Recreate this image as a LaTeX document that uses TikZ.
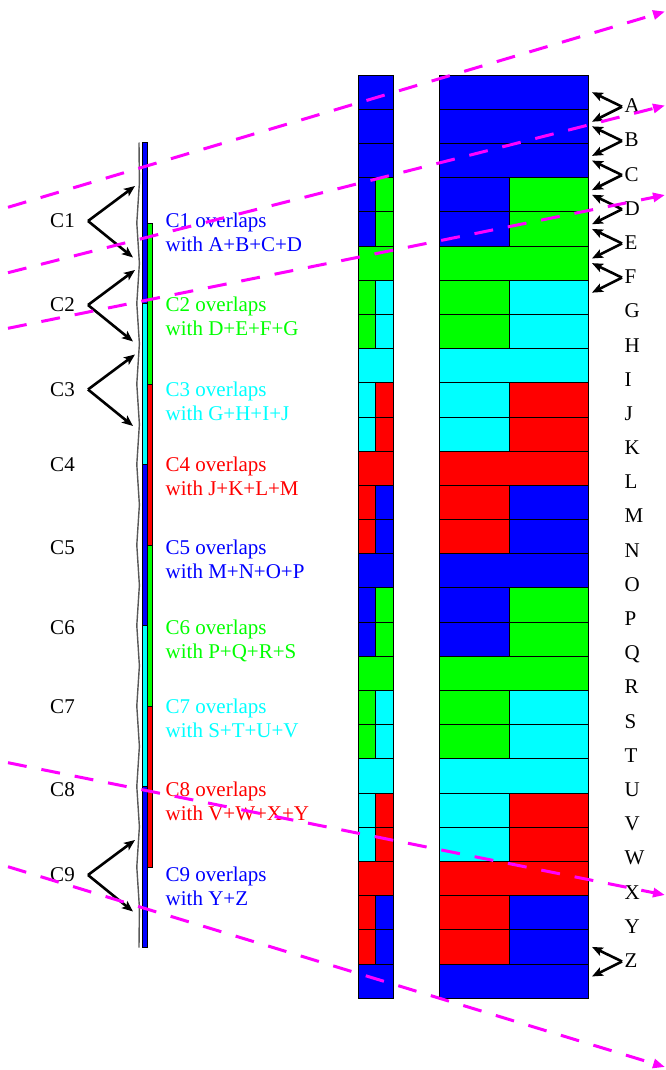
\documentclass[tikz,border=0pt]{standalone}
\usepackage{fontspec}
\setmainfont{Liberation Serif}
\usetikzlibrary{arrows.meta}
\definecolor{mblue}{RGB}{0,0,255}
\definecolor{mgreen}{RGB}{0,255,0}
\definecolor{mcyan}{RGB}{0,255,255}
\definecolor{mred}{RGB}{255,0,0}
\definecolor{mmag}{RGB}{255,0,255}
\begin{document}
\begin{tikzpicture}[x=1pt,y=-1pt,
  cell/.style={draw=black,line width=0.8pt},
  txt/.style={inner sep=0pt,font=\fontsize{21}{24}\selectfont},
  blkarrow/.style={draw=black,line width=2.6pt,-{Stealth[length=11pt,width=9pt,inset=2.5pt]}},
  magline/.style={draw=mmag,line width=3pt,dash pattern=on 19pt off 15pt,-{Triangle[length=12pt,width=9pt]}},
  barline/.style={draw=black!65,line width=1.4pt,line join=miter}]
\useasboundingbox (0,0) rectangle (666,1070);

% ---------- right columns: full rows ----------
\foreach \i/\c in {0/mblue,1/mblue,2/mblue,5/mgreen,8/mcyan,11/mred,14/mblue,17/mgreen,20/mcyan,23/mred,26/mblue}{
  \pgfmathsetmacro\ya{75+34.19*\i}
  \pgfmathsetmacro\yb{75+34.19*(\i+1)}
  \path[cell,fill=\c] (358.3,\ya) rectangle (393.3,\yb);
  \path[cell,fill=\c] (439.3,\ya) rectangle (588.3,\yb);
}
% ---------- right columns: split rows ----------
\foreach \i/\l/\r in {3/mblue/mgreen,4/mblue/mgreen,6/mgreen/mcyan,7/mgreen/mcyan,9/mcyan/mred,10/mcyan/mred,
  12/mred/mblue,13/mred/mblue,15/mblue/mgreen,16/mblue/mgreen,18/mgreen/mcyan,19/mgreen/mcyan,
  21/mcyan/mred,22/mcyan/mred,24/mred/mblue,25/mred/mblue}{
  \pgfmathsetmacro\ya{75+34.19*\i}
  \pgfmathsetmacro\yb{75+34.19*(\i+1)}
  \path[cell,fill=\l] (358.3,\ya) rectangle (375.5,\yb);
  \path[cell,fill=\r] (375.5,\ya) rectangle (393.3,\yb);
  \path[cell,fill=\l] (439.3,\ya) rectangle (509,\yb);
  \path[cell,fill=\r] (509,\ya) rectangle (588.3,\yb);
}

% ---------- letters A..Z ----------
\foreach \L [count=\i from 1] in {A,B,C,D,E,F,G,H,I,J,K,L,M,N,O,P,Q,R,S,T,U,V,W,X,Y,Z}{
  \pgfmathsetmacro\yb{75+34.19*\i+3.5}
  \node[txt,anchor=base west] (let\L) at (624.5,\yb) {\L};
}
% ---------- right arrows ----------
\foreach \i in {1,2,3,4,5,6,26}{
  \pgfmathsetmacro\yb{75+34.19*\i}
  \coordinate (rv\i) at (622,\yb-2.5);
  \coordinate (ru\i) at (592,\yb-17);
  \coordinate (rd\i) at (592,\yb+12.5);
  \draw[blkarrow] (rv\i) -- (ru\i);
  \draw[blkarrow] (rv\i) -- (rd\i);
}

% ---------- left bar ----------
\foreach \k/\c in {0/mblue,2/mcyan,4/mblue,6/mcyan,8/mblue}{
  \pgfmathsetmacro\ya{142.5+80.5*\k}
  \pgfmathsetmacro\yb{142.5+80.5*(\k+2)}
  \path[cell,fill=\c] (142,\ya) rectangle (147.3,\yb);
}
\foreach \k/\c in {1/mgreen,3/mred,5/mgreen,7/mred}{
  \pgfmathsetmacro\ya{142.5+80.5*\k}
  \pgfmathsetmacro\yb{142.5+80.5*(\k+2)}
  \path[cell,fill=\c] (147.3,\ya) rectangle (152.7,\yb);
}
\draw[barline] (139,142.5)
  \foreach \k in {1,...,9}{ -- (139.4,{142.5+80.5*\k-40.25}) -- (136.8,{142.5+80.5*\k}) }
  -- (139.4,907.25) -- (139,947.5);

% ---------- C labels and texts ----------
\foreach \k/\by/\col/\txtb in {1/227.5/mblue/A+B+C+D,2/311.5/mgreen/D+E+F+G,3/396/mcyan/G+H+I+J,
  4/471/mred/J+K+L+M,5/554.5/mblue/M+N+O+P,6/634.5/mgreen/P+Q+R+S,7/713.5/mcyan/S+T+U+V,
  8/796.5/mred/V+W+X+Y,9/881.5/mblue/Y+Z}{
  \node[txt,anchor=base] (cl\k) at (62.5,\by) {C\k};
  \node[txt,anchor=base west,text=\col] (ta\k) at (165.5,\by) {C\k{} overlaps};
  \node[txt,anchor=base west,text=\col] (tb\k) at (165.5,\by+24) {with \txtb};
}
% ---------- left arrows ----------
\foreach \k/\by in {1/227.5,2/311.5,3/396,9/881.5}{
  \coordinate (lv\k) at (88,\by-6.5);
  \coordinate (lu\k) at (135,\by-41.5);
  \coordinate (ld\k) at (133,\by+30);
  \draw[blkarrow] (lv\k) -- (lu\k);
  \draw[blkarrow] (lv\k) -- (ld\k);
}

% ---------- magenta dashed arrows ----------
\coordinate (m1s) at (8,207.3);  \coordinate (m1e) at (665,11.5);
\coordinate (m2s) at (8,272.7);  \coordinate (m2e) at (665,105.5);
\coordinate (m3s) at (8,328.3);  \coordinate (m3e) at (665,195);
\coordinate (m4s) at (8,762.7);  \coordinate (m4e) at (665,895);
\coordinate (m5s) at (8,866.7);  \coordinate (m5e) at (665,1067);
\foreach \n in {1,...,5}{ \draw[magline] (m\n s) -- (m\n e); }
\end{tikzpicture}
\end{document}
